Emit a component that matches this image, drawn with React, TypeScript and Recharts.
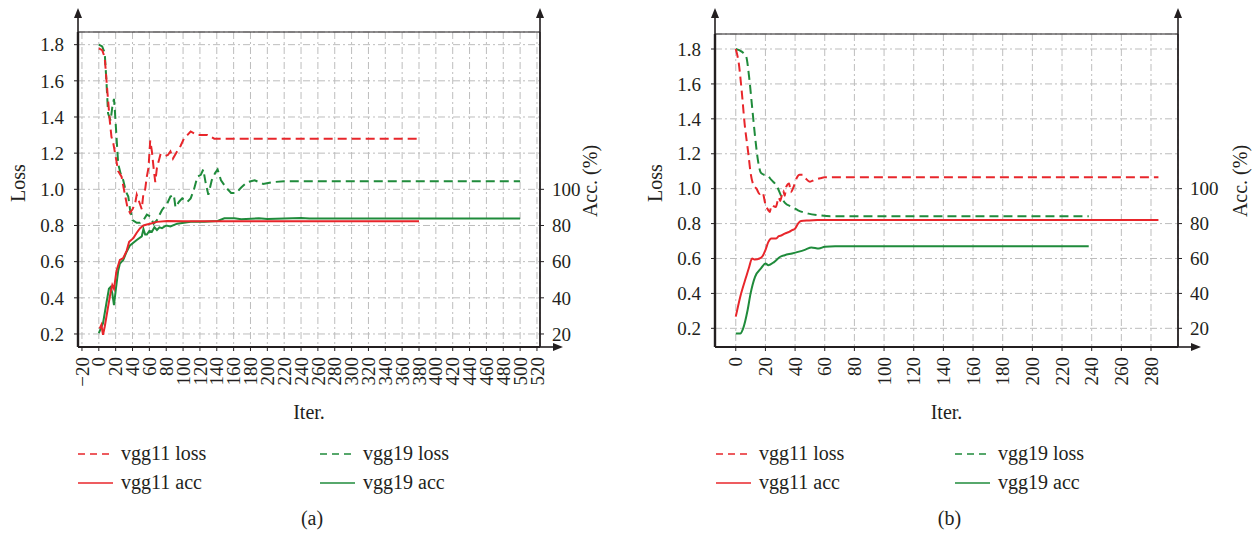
import { CartesianGrid, Line, LineChart, XAxis, YAxis } from 'recharts';

const RED = '#e8262b';
const GREEN = '#1f8b3b';
const INK = '#231f20';
const GRID = '#bdbdbd';
const FONT = '"Liberation Serif", "DejaVu Serif", serif';
const DASH = '9 5';

const W = 1258;
const H = 536;

// ---- panel (a) ----
const A_X_TICKS = [-20, 0, 20, 40, 60, 80, 100, 120, 140, 160, 180, 200, 220, 240, 260, 280, 300, 320, 340, 360, 380, 400, 420, 440, 460, 480, 500, 520];
const A_X_DOMAIN = [-24.7, 523.6];
const A_LOSS_DOMAIN = [0.128, 1.87];

const A_VGG11_LOSS_ITER = [0, 4, 7, 10, 13, 15, 17, 20, 23, 27, 31, 34, 37, 40, 43, 45, 48, 51, 53, 55, 57, 59, 61, 63, 65, 67, 69, 73, 77, 82, 85, 88, 93, 97, 101, 105, 109, 117, 129, 137, 150, 380];
const A_VGG11_LOSS = [1.78, 1.77, 1.73, 1.55, 1.38, 1.29, 1.26, 1.18, 1.1, 1.07, 0.97, 0.9, 0.87, 0.89, 0.92, 0.97, 0.93, 0.89, 0.98, 1.0, 1.07, 1.12, 1.27, 1.21, 1.12, 1.04, 1.12, 1.19, 1.18, 1.19, 1.21, 1.17, 1.21, 1.24, 1.28, 1.3, 1.32, 1.3, 1.3, 1.28, 1.28, 1.28];

const A_VGG19_LOSS_ITER = [0, 4, 7, 9, 11, 14, 16, 18, 19, 21, 23, 26, 29, 32, 35, 37, 40, 45, 49, 53, 57, 61, 65, 69, 75, 81, 85, 89, 91, 95, 99, 105, 109, 113, 117, 121, 124, 127, 130, 134, 138, 141, 145, 151, 157, 163, 169, 176, 185, 195, 207, 220, 500];
const A_VGG19_LOSS = [1.8, 1.79, 1.755, 1.6, 1.42, 1.38, 1.455, 1.5, 1.44, 1.29, 1.14, 1.085, 1.05, 0.99, 0.96, 0.89, 0.83, 0.815, 0.815, 0.83, 0.86, 0.85, 0.81, 0.83, 0.886, 0.92, 0.96, 0.97, 0.9, 0.93, 0.95, 0.93, 0.95, 1.0, 1.07, 1.08, 1.11, 1.03, 0.97, 1.05, 1.09, 1.11, 1.05, 1.01, 0.98, 0.98, 1.01, 1.04, 1.05, 1.03, 1.04, 1.045, 1.045];

const A_VGG11_ACC_ITER = [1, 3, 5, 7, 11, 14, 16, 18, 21, 25, 29, 33, 36, 41, 45, 49, 53, 57, 61, 69, 81, 100, 380];
const A_VGG11_ACC = [23, 25, 19.5, 24, 35, 43, 47, 45, 55, 61, 62, 66, 71, 73, 76, 78.5, 80, 80.5, 81, 82, 82.5, 82.3, 82.3];

const A_VGG19_ACC_ITER = [0, 5, 9, 12, 14, 16, 18, 20, 23, 25, 29, 33, 37, 41, 45, 51, 53, 55, 57, 60, 63, 66, 69, 72, 75, 80, 85, 93, 101, 109, 125, 141, 149, 161, 169, 190, 200, 220, 240, 250, 500];
const A_VGG19_ACC = [20.5, 26, 37, 45, 46, 42.5, 36, 44, 55, 59, 61, 65.5, 69, 70.5, 72, 74, 78, 75, 75, 77, 76.5, 79, 77.5, 79, 78.5, 80, 79.5, 81, 81.5, 82, 82, 82.5, 84, 84, 83.5, 84, 83.6, 83.8, 84.2, 83.8, 83.8];

// ---- panel (b) ----
const B_X_TICKS = [0, 20, 40, 60, 80, 100, 120, 140, 160, 180, 200, 220, 240, 260, 280];
const B_X_DOMAIN = [-14, 298.2];
const B_LOSS_DOMAIN = [0.093, 1.886];

const B_VGG11_LOSS_ITER = [0, 2, 4, 6, 8.5, 10, 12, 14, 16, 18, 20, 22, 23, 24, 27, 29, 30, 32, 33, 34, 36, 37, 39, 41, 43, 45, 47, 50, 53, 57, 60, 285];
const B_VGG11_LOSS = [1.8, 1.72, 1.56, 1.37, 1.2, 1.09, 1.02, 1.0, 0.97, 0.98, 0.91, 0.876, 0.866, 0.905, 0.895, 0.95, 0.93, 0.99, 0.96, 1.01, 1.03, 0.98, 1.01, 1.06, 1.08, 1.08, 1.06, 1.04, 1.05, 1.06, 1.065, 1.065];

const B_VGG19_LOSS_ITER = [0, 4, 7, 9, 11, 13, 15, 17, 19, 21, 24, 28, 30, 33, 38, 42, 49, 56, 64, 238];
const B_VGG19_LOSS = [1.8, 1.785, 1.757, 1.64, 1.47, 1.3, 1.16, 1.09, 1.08, 1.077, 1.05, 1.01, 0.97, 0.92, 0.895, 0.876, 0.857, 0.848, 0.842, 0.842];

const B_VGG11_ACC_ITER = [0, 3, 7, 9, 11, 13, 16, 18, 20, 22, 24, 27, 29, 31, 33, 36, 38, 40, 42, 44, 49, 55, 285];
const B_VGG11_ACC = [26.7, 38, 49.5, 55, 60, 59.4, 60, 61.3, 64.8, 69.5, 71.4, 71.4, 72.8, 73.3, 74.3, 75.2, 76.2, 77.1, 80, 81.5, 81.8, 82, 82];

const B_VGG19_ACC_ITER = [0, 3, 5, 8, 10, 13, 17, 20, 22, 26, 30, 33, 38, 42, 47, 51, 56, 60, 67, 238];
const B_VGG19_ACC = [17, 17, 20, 30.5, 40, 49.5, 54.3, 57.1, 56.2, 58.1, 61, 61.9, 62.9, 63.8, 65.1, 66.3, 65.7, 66.7, 67, 67];

const LOSS_TICKS = [0.2, 0.4, 0.6, 0.8, 1.0, 1.2, 1.4, 1.6, 1.8];
const ACC_TICKS = [20, 40, 60, 80, 100];

const zip = (iters: number[], vals: number[]) => iters.map((iter, i) => ({ iter, v: vals[i] }));

const TICK_FS = 19;
const TEXT_FS = 20;

function XTick({ x, y, payload }: any) {
  const v = payload.value as number;
  const label = v < 0 ? `\u2212${Math.abs(v)}` : String(v);
  return (
    <text
      x={x}
      y={y}
      transform={`rotate(-90, ${x}, ${y})`}
      textAnchor="end"
      dy="0.35em"
      fill={INK}
      fontSize={TICK_FS}
      fontFamily={FONT}
    >
      {label}
    </text>
  );
}

interface PanelSpec {
  left: number;
  width: number;
  plotLeft: number;
  plotRight: number;
  plotTop: number;
  plotBottom: number;
  accTitleDx: number;
  xDomain: number[];
  xTicks: number[];
  lossDomain: number[];
  curve: 'linear' | 'monotone';
  vgg11Loss: { iter: number; v: number }[];
  vgg19Loss: { iter: number; v: number }[];
  vgg11Acc: { iter: number; v: number }[];
  vgg19Acc: { iter: number; v: number }[];
}

const PANELS: PanelSpec[] = [
  {
    left: 0,
    width: 629,
    plotLeft: 78,
    plotRight: 540,
    plotTop: 32,
    plotBottom: 347,
    accTitleDx: 50,
    xDomain: A_X_DOMAIN,
    xTicks: A_X_TICKS,
    lossDomain: A_LOSS_DOMAIN,
    curve: 'linear',
    vgg11Loss: zip(A_VGG11_LOSS_ITER, A_VGG11_LOSS),
    vgg19Loss: zip(A_VGG19_LOSS_ITER, A_VGG19_LOSS),
    vgg11Acc: zip(A_VGG11_ACC_ITER, A_VGG11_ACC),
    vgg19Acc: zip(A_VGG19_ACC_ITER, A_VGG19_ACC),
  },
  {
    left: 629,
    width: 629,
    plotLeft: 715,
    plotRight: 1178,
    plotTop: 34,
    plotBottom: 347,
    accTitleDx: 62,
    xDomain: B_X_DOMAIN,
    xTicks: B_X_TICKS,
    lossDomain: B_LOSS_DOMAIN,
    curve: 'monotone',
    vgg11Loss: zip(B_VGG11_LOSS_ITER, B_VGG11_LOSS),
    vgg19Loss: zip(B_VGG19_LOSS_ITER, B_VGG19_LOSS),
    vgg11Acc: zip(B_VGG11_ACC_ITER, B_VGG11_ACC),
    vgg19Acc: zip(B_VGG19_ACC_ITER, B_VGG19_ACC),
  },
];

const X_AXIS_HEIGHT = 60;
const tickStyle = { fill: INK, fontSize: TICK_FS, fontFamily: FONT };

function Panel({ p }: { p: PanelSpec }) {
  const leftW = p.plotLeft - p.left;
  const rightW = p.left + p.width - p.plotRight;
  return (
    <div style={{ position: 'absolute', left: p.left, top: 0 }}>
      <LineChart
        width={p.width}
        height={H}
        margin={{ top: p.plotTop, right: 0, left: 0, bottom: H - p.plotBottom - X_AXIS_HEIGHT }}
      >
        <CartesianGrid
          yAxisId="loss"
          stroke={GRID}
          strokeDasharray="7 3 2 3"
          strokeWidth={1}
        />
        <XAxis
          dataKey="iter"
          type="number"
          domain={p.xDomain}
          ticks={p.xTicks}
          interval={0}
          allowDataOverflow
          height={X_AXIS_HEIGHT}
          tickSize={4}
          tickMargin={6}
          tick={<XTick />}
          axisLine={{ stroke: INK, strokeWidth: 2 }}
          tickLine={{ stroke: INK }}
        />
        <YAxis
          yAxisId="loss"
          type="number"
          domain={p.lossDomain}
          ticks={LOSS_TICKS}
          interval={0}
          allowDataOverflow
          width={leftW}
          tickSize={4}
          tickMargin={10}
          tickFormatter={(v: number) => v.toFixed(1)}
          tick={tickStyle}
          axisLine={{ stroke: INK, strokeWidth: 2.4 }}
          tickLine={{ stroke: INK }}
        />
        <YAxis
          yAxisId="acc"
          orientation="right"
          type="number"
          domain={[p.lossDomain[0] * 100, p.lossDomain[1] * 100]}
          ticks={ACC_TICKS}
          interval={0}
          allowDataOverflow
          width={rightW}
          tickSize={4}
          tickMargin={8}
          tick={tickStyle}
          axisLine={{ stroke: INK, strokeWidth: 1.8 }}
          tickLine={{ stroke: INK }}
        />
        <Line data={p.vgg19Loss} yAxisId="loss" dataKey="v" type={p.curve} stroke={GREEN} strokeWidth={2} strokeDasharray={DASH} dot={false} isAnimationActive={false} />
        <Line data={p.vgg11Loss} yAxisId="loss" dataKey="v" type={p.curve} stroke={RED} strokeWidth={2} strokeDasharray={DASH} dot={false} isAnimationActive={false} />
        <Line data={p.vgg19Acc} yAxisId="acc" dataKey="v" type={p.curve} stroke={GREEN} strokeWidth={2} dot={false} isAnimationActive={false} />
        <Line data={p.vgg11Acc} yAxisId="acc" dataKey="v" type={p.curve} stroke={RED} strokeWidth={2} dot={false} isAnimationActive={false} />
      </LineChart>
    </div>
  );
}

const LEGEND = [
  { name: 'vgg11 loss', color: RED, dashed: true, col: 0, row: 0 },
  { name: 'vgg19 loss', color: GREEN, dashed: true, col: 1, row: 0 },
  { name: 'vgg11 acc', color: RED, dashed: false, col: 0, row: 1 },
  { name: 'vgg19 acc', color: GREEN, dashed: false, col: 1, row: 1 },
];

function Decorations({ p, caption, legendCols }: { p: PanelSpec; caption: string; legendCols: number[] }) {
  const arrow = (x: number, tipY: number) => (
    <g>
      <line x1={x} y1={p.plotTop} x2={x} y2={tipY + 6} stroke={INK} strokeWidth={1.6} />
      <polygon points={`${x},${tipY} ${x - 4},${tipY + 10} ${x + 4},${tipY + 10}`} fill={INK} />
    </g>
  );
  const tipX = p.plotRight + 23;
  const cx = (p.plotLeft + p.plotRight) / 2;
  return (
    <g fontFamily={FONT} fill={INK}>
      <line x1={p.plotLeft} y1={p.plotTop} x2={p.plotRight} y2={p.plotTop} stroke={INK} strokeWidth={1.2} />
      {arrow(p.plotLeft, 8)}
      {arrow(p.plotRight, 8)}
      <line x1={p.plotRight} y1={p.plotBottom} x2={tipX - 6} y2={p.plotBottom} stroke={INK} strokeWidth={1.6} />
      <polygon points={`${tipX},${p.plotBottom} ${tipX - 10},${p.plotBottom - 4} ${tipX - 10},${p.plotBottom + 4}`} fill={INK} />
      <text transform={`translate(${p.plotLeft - 60},183) rotate(-90)`} textAnchor="middle" dy="0.35em" fontSize={TEXT_FS}>Loss</text>
      <text transform={`translate(${p.plotRight + p.accTitleDx},181) rotate(-90)`} textAnchor="middle" dy="0.35em" fontSize={TEXT_FS}>Acc. (%)</text>
      <text x={cx} y={419} textAnchor="middle" fontSize={TEXT_FS}>Iter.</text>
      {LEGEND.map((l) => {
        const x0 = legendCols[l.col];
        const y = 454 + l.row * 29;
        return (
          <g key={l.name}>
            <line x1={x0} y1={y} x2={x0 + 35} y2={y} stroke={l.color} strokeWidth={1.6} strokeDasharray={l.dashed ? '7 5' : undefined} />
            <text x={x0 + 43} y={y + 6} fontSize={TEXT_FS}>{l.name}</text>
          </g>
        );
      })}
      <text x={cx + 3} y={525} textAnchor="middle" fontSize={TEXT_FS}>{caption}</text>
    </g>
  );
}

export default function App() {
  return (
    <div style={{ position: 'absolute', left: 0, top: 0, width: W, height: H, background: '#fff' }}>
      {PANELS.map((p, i) => (
        <Panel key={i} p={p} />
      ))}
      <svg width={W} height={H} style={{ position: 'absolute', left: 0, top: 0, pointerEvents: 'none' }}>
        <Decorations p={PANELS[0]} caption="(a)" legendCols={[78, 320]} />
        <Decorations p={PANELS[1]} caption="(b)" legendCols={[716, 955]} />
      </svg>
    </div>
  );
}
